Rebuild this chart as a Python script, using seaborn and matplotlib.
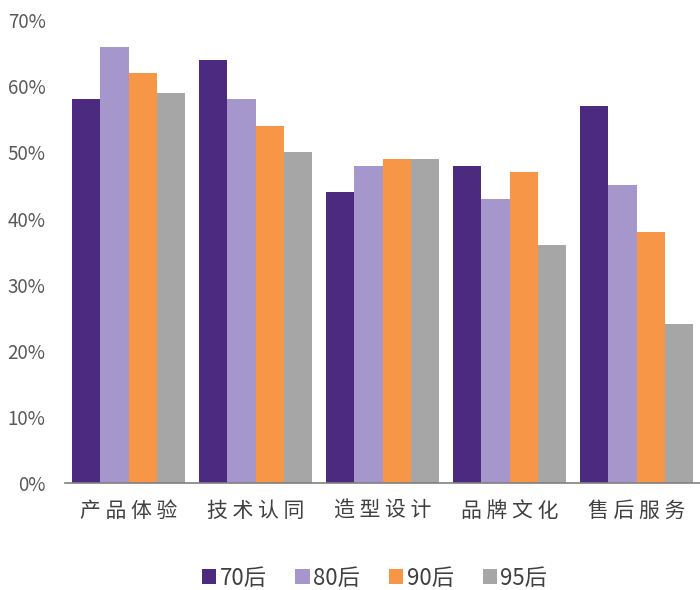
import matplotlib
matplotlib.use("Agg")
import matplotlib.pyplot as plt
import seaborn as sns
import pandas as pd
import numpy as np
from matplotlib.ticker import FixedLocator, PercentFormatter
from matplotlib.patches import Patch

categories = ["产品体验", "技术认同", "造型设计", "品牌文化", "售后服务"]
series = ["70后", "80后", "90后", "95后"]
v70 = [58, 64, 44, 48, 57]
v80 = [66, 58, 48, 43, 45]
v90 = [62, 54, 49, 47, 38]
v95 = [59, 50, 49, 36, 24]
colors = ["#4B2A7F", "#A597CC", "#F79646", "#A6A6A6"]

rows = []
for s, vals in zip(series, [v70, v80, v90, v95]):
    for c, v in zip(categories, vals):
        rows.append({"类别": c, "年龄": s, "值": v})
df = pd.DataFrame(rows)

sns.set_style("white")
plt.rcParams['font.family'] = ['Noto Sans CJK SC', 'DejaVu Sans']

fig = plt.figure(figsize=(7, 5.9), dpi=100)
ax = fig.add_axes([0.093, 0.181, 0.907, 0.785])
sns.barplot(data=df, x="类别", y="值", hue="年龄", palette=colors,
            width=0.89, gap=0, saturation=1, ax=ax, legend=False,
            edgecolor="none", linewidth=0)

ax.set_ylim(0, 70)
ax.set_xlim(-0.5, 4.5)
ax.set_yticks(range(0, 71, 10))
ax.yaxis.set_major_formatter(PercentFormatter(decimals=0))
ax.set_xlabel("")
ax.set_ylabel("")
for sp in ["top", "right", "left"]:
    ax.spines[sp].set_visible(False)
ax.spines["bottom"].set_color("#808080")
ax.spines["bottom"].set_linewidth(1.2)

ax.tick_params(axis="y", length=0, labelsize=13.5, labelcolor="#595959", pad=14)
ax.set_xticks(range(len(categories)))
ax.set_xticklabels([" ".join(list(c)) for c in categories])
ax.tick_params(axis="x", which="major", length=0, labelsize=15, labelcolor="#404040", pad=12)
ax.xaxis.set_minor_locator(FixedLocator(np.arange(-0.5, 5.0, 1.0)))
ax.tick_params(axis="x", which="minor", direction="in", length=5, width=1, color="#808080")

handles = [Patch(facecolor=c, edgecolor="none", label=s) for c, s in zip(colors, series)]
fig.legend(handles=handles, loc="center", bbox_to_anchor=(0.535, 0.02), ncol=4,
           frameon=False, fontsize=16, handlelength=0.65, handleheight=0.65,
           handletextpad=0.15, columnspacing=1.3, labelcolor="#404040")

fig.savefig("out.png", dpi=100)
